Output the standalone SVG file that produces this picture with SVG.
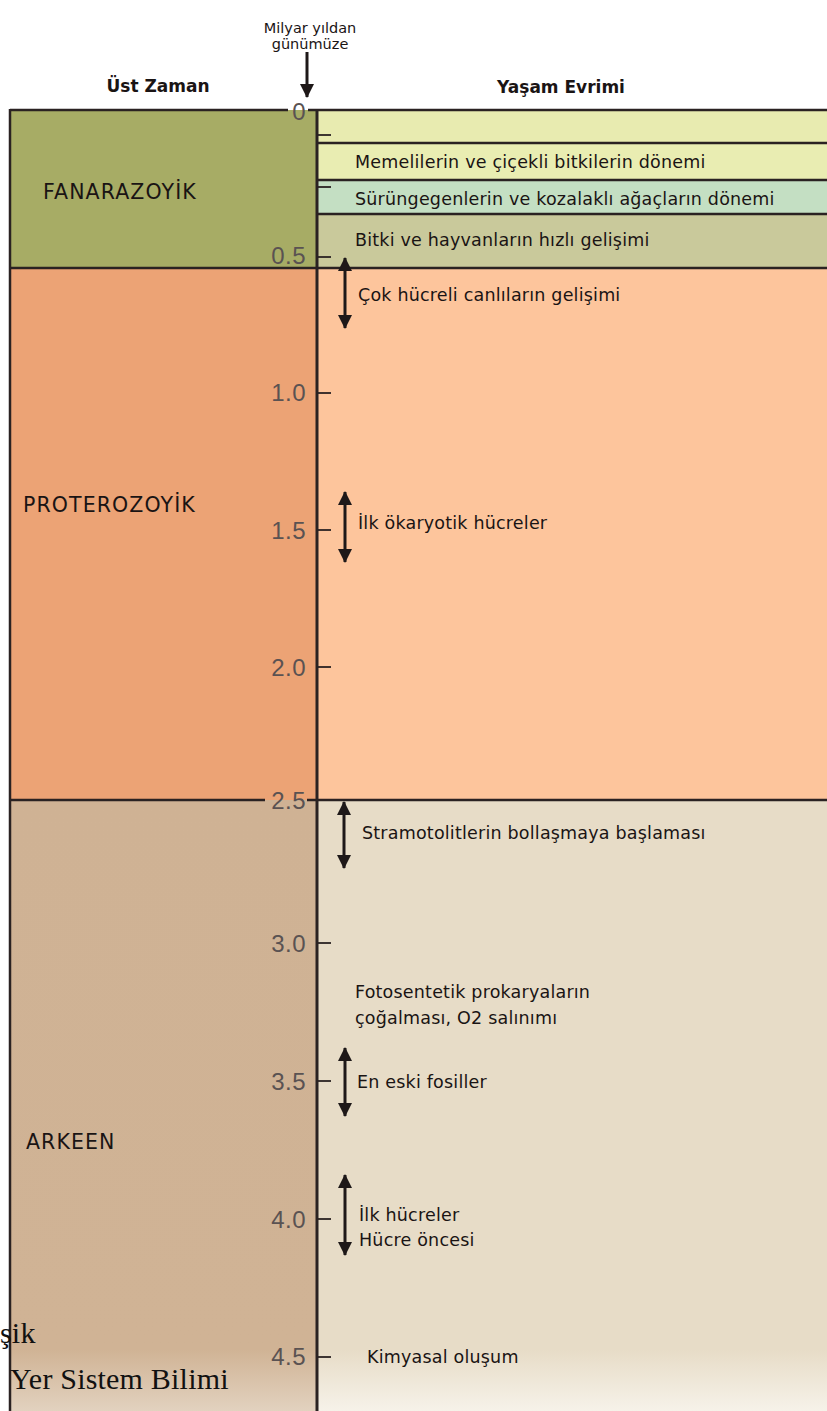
<svg xmlns="http://www.w3.org/2000/svg" width="827" height="1411" viewBox="0 0 827 1411">
<style>
.lbl{font-family:"DejaVu Sans","Liberation Sans",sans-serif;font-size:17.5px;letter-spacing:0.2px;fill:#1a1414}
.era{font-family:"DejaVu Sans","Liberation Sans",sans-serif;font-size:20.5px;letter-spacing:1.1px;fill:#1a1414}
.hdr{font-family:"DejaVu Sans","Liberation Sans",sans-serif;font-size:17px;font-weight:bold;fill:#1a1414}
.sm{font-family:"DejaVu Sans","Liberation Sans",sans-serif;font-size:14.5px;fill:#1a1414;text-anchor:middle}
.num{font-family:"Liberation Sans",Arial,sans-serif;font-size:24px;letter-spacing:0.5px;fill:#5a5252;text-anchor:end}
.ln{stroke:#2a2222;stroke-width:2.5;fill:none}
.tk{stroke:#2a2222;stroke-width:1.8}
.ar{stroke:#1e1818;stroke-width:3}
.src{font-family:"Liberation Serif","Times New Roman",serif;font-size:30px;letter-spacing:0.2px;fill:#111}
</style>
<defs>
<marker id="ah" viewBox="0 0 14 16" refX="13" refY="8" markerWidth="14" markerHeight="16" markerUnits="userSpaceOnUse" orient="auto-start-reverse">
<path d="M0,1 L14,8 L0,15 Z" fill="#1e1818"/>
</marker>
<linearGradient id="gArkL" x1="0" y1="800" x2="0" y2="1411" gradientUnits="userSpaceOnUse">
<stop offset="0" stop-color="#cfb294"/><stop offset="0.9" stop-color="#d0b395"/><stop offset="1" stop-color="#e2d2bf"/>
</linearGradient>
<linearGradient id="gArkR" x1="0" y1="800" x2="0" y2="1411" gradientUnits="userSpaceOnUse">
<stop offset="0" stop-color="#e7dcc7"/><stop offset="0.9" stop-color="#e7dcc7"/><stop offset="1" stop-color="#f6f2e9"/>
</linearGradient>
</defs>
<rect width="827" height="1411" fill="#ffffff"/>

<g id="header">
<text x="310" y="33" class="sm">Milyar yıldan</text>
<text x="310" y="49" class="sm">günümüze</text>
<text x="158" y="92" text-anchor="middle" class="hdr">Üst Zaman</text>
<text x="561" y="93" text-anchor="middle" class="hdr">Yaşam Evrimi</text>
</g>

<g id="fanerozoik">
<rect x="10" y="110" width="307" height="158" fill="#a7ac65"/>
<text x="43" y="199" class="era">FANARAZOYİK</text>
</g>
<g id="proterozoik">
<rect x="10" y="268" width="307" height="532" fill="#eca375"/>
<rect x="317" y="268" width="510" height="532" fill="#fdc59c"/>
<text x="23" y="512" class="era">PROTEROZOYİK</text>
</g>
<g id="arkeen">
<rect x="10" y="800" width="307" height="611" fill="url(#gArkL)"/>
<rect x="317" y="800" width="510" height="611" fill="url(#gArkR)"/>
<text x="26" y="1149" class="era">ARKEEN</text>
</g>

<g id="band1"><rect x="317" y="110" width="510" height="33" fill="#e8ebb0"/></g>
<g id="band2"><rect x="317" y="143" width="510" height="37" fill="#e9edb2"/>
<text x="355" y="168" class="lbl">Memelilerin ve çiçekli bitkilerin dönemi</text></g>
<g id="band3"><rect x="317" y="180" width="510" height="34" fill="#c4dfc3"/>
<text x="355" y="205" class="lbl">Sürüngegenlerin ve kozalaklı ağaçların dönemi</text></g>
<g id="band4"><rect x="317" y="214" width="510" height="54" fill="#c9c99b"/>
<text x="355" y="246" class="lbl">Bitki ve hayvanların hızlı gelişimi</text></g>

<g id="frame">
<line class="ln" x1="10" y1="110" x2="288" y2="110"/>
<line class="ln" x1="308" y1="110" x2="827" y2="110"/>
<line class="ln" x1="317" y1="143" x2="827" y2="143"/>
<line class="ln" x1="317" y1="180" x2="827" y2="180"/>
<line class="ln" x1="317" y1="214" x2="827" y2="214"/>
<line class="ln" x1="10" y1="268" x2="827" y2="268"/>
<line class="ln" x1="10" y1="800" x2="265" y2="800"/>
<line class="ln" x1="307" y1="800" x2="827" y2="800"/>
<line class="ln" x1="10" y1="109" x2="10" y2="1411"/>
<line x1="317" y1="109" x2="317" y2="1411" stroke="#2a2222" stroke-width="3"/>
</g>

<g id="ticks">
<line class="tk" x1="317" y1="135" x2="331" y2="135"/>
<line class="tk" x1="317" y1="187" x2="331" y2="187"/>
<line class="tk" x1="317" y1="257" x2="331" y2="257"/>
<line class="tk" x1="317" y1="393" x2="331" y2="393"/>
<line class="tk" x1="317" y1="530" x2="331" y2="530"/>
<line class="tk" x1="317" y1="667" x2="331" y2="667"/>
<line class="tk" x1="317" y1="943" x2="331" y2="943"/>
<line class="tk" x1="317" y1="1081" x2="331" y2="1081"/>
<line class="tk" x1="317" y1="1219" x2="331" y2="1219"/>
<line class="tk" x1="317" y1="1357" x2="331" y2="1357"/>
<text class="num" x="306" y="120">0</text>
<text class="num" x="306" y="264">0.5</text>
<text class="num" x="306" y="401">1.0</text>
<text class="num" x="306" y="539">1.5</text>
<text class="num" x="306" y="676">2.0</text>
<text class="num" x="306" y="809">2.5</text>
<text class="num" x="306" y="952">3.0</text>
<text class="num" x="306" y="1090">3.5</text>
<text class="num" x="306" y="1228">4.0</text>
<text class="num" x="306" y="1365">4.5</text>
</g>

<g id="events">
<text x="358" y="301" class="lbl">Çok hücreli canlıların gelişimi</text>
<text x="358" y="529" class="lbl">İlk ökaryotik hücreler</text>
<text x="362" y="839" class="lbl">Stramotolitlerin bollaşmaya başlaması</text>
<text x="355" y="998" class="lbl">Fotosentetik prokaryaların</text>
<text x="355" y="1024" class="lbl">çoğalması, O2 salınımı</text>
<text x="357" y="1088" class="lbl">En eski fosiller</text>
<text x="359" y="1221" class="lbl">İlk hücreler</text>
<text x="359" y="1246" class="lbl">Hücre öncesi</text>
<text x="367" y="1363" class="lbl">Kimyasal oluşum</text>
</g>

<g id="connectors">
<line class="ar" x1="307" y1="52" x2="307" y2="97" marker-end="url(#ah)"/>
<line class="ar" x1="345" y1="258" x2="345" y2="328" marker-start="url(#ah)" marker-end="url(#ah)"/>
<line class="ar" x1="345" y1="492" x2="345" y2="562" marker-start="url(#ah)" marker-end="url(#ah)"/>
<line class="ar" x1="344" y1="802" x2="344" y2="868" marker-start="url(#ah)" marker-end="url(#ah)"/>
<line class="ar" x1="345" y1="1048" x2="345" y2="1116" marker-start="url(#ah)" marker-end="url(#ah)"/>
<line class="ar" x1="345" y1="1175" x2="345" y2="1255" marker-start="url(#ah)" marker-end="url(#ah)"/>
</g>

<g id="source">
<text x="0" y="1343" class="src">şik</text>
<text x="10" y="1389" class="src">Yer Sistem Bilimi</text>
</g>
</svg>
